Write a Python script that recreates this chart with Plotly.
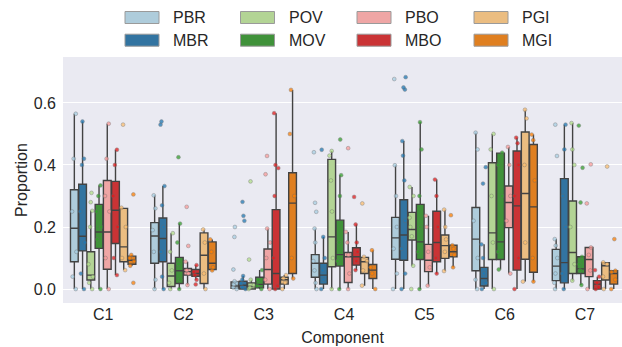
import colorsys
import plotly.graph_objects as go

# ---------------- data ----------------
COMPONENTS = ["C1", "C2", "C3", "C4", "C5", "C6", "C7"]
GROUPS = ["PBR", "MBR", "POV", "MOV", "PBO", "MBO", "PGI", "MGI"]
BASE_COLORS = ["#a6cee3", "#1f78b4", "#b2df8a", "#33a02c",
               "#fb9a99", "#e31a1c", "#fdbf6f", "#ff7f00"]

# per group: values for C1..C7
LOWER = {
    "PBR": [0.0, 0.0, 0.0, 0.0, 0.0, 0.0, 0.0],
    "MBR": [0.0, 0.0, 0.0, 0.0, 0.0, 0.0, 0.0],
    "POV": [0.0, 0.0, 0.0, 0.0, 0.075, 0.0, 0.027],
    "MOV": [0.0, 0.0, 0.0, 0.0, 0.0, 0.063, 0.013],
    "PBO": [0.0, 0.013, 0.0, 0.0, 0.011, 0.05, 0.0],
    "MBO": [0.045, 0.03, 0.0, 0.061, 0.05, 0.0, 0.0],
    "PGI": [0.061, 0.0, 0.0, 0.011, 0.058, 0.024, 0.0],
    "MGI": [0.075, 0.06, 0.034, 0.0, 0.07, 0.024, 0.0],
}
Q1 = {
    "PBR": [0.088, 0.083, 0.002, 0.038, 0.096, 0.059, 0.027],
    "MBR": [0.123, 0.088, 0.0, 0.016, 0.093, 0.01, 0.02],
    "POV": [0.029, 0.008, 0.0, 0.072, 0.158, 0.095, 0.05],
    "MOV": [0.131, 0.018, 0.004, 0.074, 0.095, 0.095, 0.05],
    "PBO": [0.064, 0.045, 0.016, 0.021, 0.056, 0.198, 0.04],
    "MBO": [0.147, 0.041, 0.0, 0.077, 0.088, 0.061, 0.0],
    "PGI": [0.088, 0.018, 0.016, 0.05, 0.099, 0.096, 0.029],
    "MGI": [0.08, 0.063, 0.05, 0.034, 0.104, 0.054, 0.016],
}
MEDIAN = {
    "PBR": [0.196, 0.171, 0.01, 0.083, 0.165, 0.161, 0.074],
    "MBR": [0.17, 0.163, 0.012, 0.045, 0.174, 0.034, 0.085],
    "POV": [0.045, 0.042, 0.008, 0.168, 0.192, 0.181, 0.118],
    "MOV": [0.184, 0.059, 0.015, 0.111, 0.152, 0.152, 0.065],
    "PBO": [0.184, 0.056, 0.063, 0.104, 0.093, 0.279, 0.095],
    "MBO": [0.254, 0.05, 0.05, 0.104, 0.15, 0.268, 0.016],
    "PGI": [0.136, 0.109, 0.03, 0.088, 0.14, 0.308, 0.075],
    "MGI": [0.093, 0.083, 0.277, 0.061, 0.12, 0.265, 0.05],
}
Q3 = {
    "PBR": [0.32, 0.214, 0.023, 0.111, 0.231, 0.263, 0.128],
    "MBR": [0.338, 0.229, 0.025, 0.083, 0.288, 0.07, 0.356],
    "POV": [0.12, 0.083, 0.02, 0.418, 0.247, 0.407, 0.284],
    "MOV": [0.273, 0.102, 0.038, 0.222, 0.273, 0.438, 0.104],
    "PBO": [0.35, 0.066, 0.129, 0.118, 0.144, 0.332, 0.134],
    "MBO": [0.347, 0.063, 0.256, 0.133, 0.251, 0.445, 0.027],
    "PGI": [0.26, 0.181, 0.038, 0.102, 0.174, 0.506, 0.085],
    "MGI": [0.106, 0.152, 0.375, 0.079, 0.141, 0.466, 0.059],
}
UPPER = {
    "PBR": [0.565, 0.302, 0.025, 0.195, 0.399, 0.504, 0.161],
    "MBR": [0.54, 0.332, 0.042, 0.168, 0.477, 0.144, 0.53],
    "POV": [0.252, 0.18, 0.03, 0.445, 0.329, 0.5, 0.535],
    "MOV": [0.334, 0.211, 0.061, 0.367, 0.538, 0.44, 0.104],
    "PBO": [0.533, 0.088, 0.195, 0.184, 0.236, 0.458, 0.134],
    "MBO": [0.449, 0.077, 0.567, 0.208, 0.353, 0.488, 0.04],
    "PGI": [0.262, 0.192, 0.045, 0.104, 0.256, 0.578, 0.086],
    "MGI": [0.11, 0.16, 0.642, 0.125, 0.141, 0.498, 0.059],
}
OUTLIERS = {
    "PBR": [[], [], [0.2, 0.168, 0.063], [0.441, 0.278, 0.249], [0.677], [], [0.53, 0.429]],
    "MBR": [[], [0.53, 0.54], [0.281, 0.236, 0.22], [0.449], [0.683, 0.65, 0.643], [0.393, 0.34], []],
    "POV": [[0.31, 0.28], [], [0.347, 0.095], [], [0.0], [], []],
    "MOV": [[], [0.425], [], [0.482], [], [], [0.527, 0.391, 0.279]],
    "PBO": [[], [0.265, 0.139], [0.429, 0.37], [0.454], [], [], [0.402, 0.276]],
    "MBO": [[], [0.015], [], [0.297], [], [], [0.061]],
    "PGI": [[0.53], [], [], [0.276], [], [], [0.395]],
    "MGI": [[0.305, 0.02], [], [], [], [0.238], [], [0.161]],
}
INNER = {
    "PBR": [[0.04, 0.12, 0.25, 0.42], [0.03, 0.12, 0.19, 0.26], [0.005, 0.015, 0.02],
            [0.02, 0.06, 0.09, 0.15], [0.05, 0.13, 0.2, 0.3], [0.03, 0.1, 0.22, 0.45], [0.02, 0.05, 0.1, 0.14]],
    "MBR": [[0.05, 0.15, 0.25, 0.4, 0.42], [0.04, 0.12, 0.2, 0.27], [0.005, 0.018, 0.03],
            [0.03, 0.06, 0.1], [0.05, 0.13, 0.22, 0.35, 0.43], [0.02, 0.05, 0.1], [0.05, 0.2, 0.3, 0.45]],
    "POV": [[0.02, 0.04, 0.08, 0.2], [0.02, 0.06, 0.12], [0.005, 0.012],
            [0.1, 0.25, 0.35, 0.43], [0.17, 0.2, 0.23, 0.3], [0.15, 0.3, 0.45], [0.08, 0.2, 0.4, 0.45]],
    "MOV": [[0.16, 0.2, 0.25, 0.3], [0.03, 0.08, 0.15], [0.01, 0.03],
            [0.09, 0.15, 0.3], [0.12, 0.2, 0.3, 0.45], [0.12, 0.3, 0.4], [0.06, 0.08]],
    "PBO": [[0.1, 0.25, 0.3, 0.42], [0.05, 0.06], [0.03, 0.1, 0.15],
            [0.05, 0.11, 0.15], [0.07, 0.12, 0.2], [0.22, 0.3, 0.4], [0.06, 0.11]],
    "MBO": [[0.1, 0.2, 0.3, 0.4], [0.045, 0.055], [0.01, 0.1, 0.3, 0.4, 0.39],
            [0.09, 0.12, 0.15], [0.1, 0.2, 0.3], [0.1, 0.3, 0.4, 0.47], [0.005, 0.02]],
    "PGI": [[0.1, 0.2], [0.05, 0.15], [0.02, 0.035],
            [0.06, 0.09], [0.12, 0.16, 0.2], [0.15, 0.4, 0.55], [0.04, 0.08]],
    "MGI": [[0.09, 0.1], [0.07, 0.12], [0.1, 0.3, 0.5],
            [0.05, 0.07], [0.11, 0.13], [0.1, 0.35, 0.48], [0.03, 0.055]],
}
Y_TICKS = [0.0, 0.2, 0.4, 0.6]
LEGEND_ORDER = ["PBR", "POV", "PBO", "PGI", "MBR", "MOV", "MBO", "MGI"]


def desaturate(hexcol, prop=0.75):
    r, g, b = (int(hexcol[i:i + 2], 16) / 255 for i in (1, 3, 5))
    h, l, s = colorsys.rgb_to_hls(r, g, b)
    r, g, b = colorsys.hls_to_rgb(h, l, s * prop)
    return "#%02x%02x%02x" % (round(r * 255), round(g * 255), round(b * 255))


COLOR = {g: c for g, c in zip(GROUPS, BASE_COLORS)}
FILL = {g: desaturate(c) for g, c in zip(GROUPS, BASE_COLORS)}

# ---------------- figure ----------------
W, H = 622, 347
ML, MR, MT, MB = 63, 0, 57, 44
PW, PH = W - ML - MR, H - MT - MB
CAT_PX = 80.3
FONT = "Liberation Sans, Arial, sans-serif"
TXT = "#262626"

fig = go.Figure()
for g in GROUPS:
    pts = [[LOWER[g][i], UPPER[g][i]] + INNER[g][i] + OUTLIERS[g][i]
           for i in range(len(COMPONENTS))]
    fig.add_trace(go.Box(
        name=g, x=COMPONENTS, y=pts,
        q1=Q1[g], median=MEDIAN[g], q3=Q3[g],
        lowerfence=LOWER[g], upperfence=UPPER[g],
        offsetgroup=g, boxpoints="all", pointpos=0, jitter=0.7,
        whiskerwidth=0, fillcolor=FILL[g],
        line=dict(color="#434343", width=1.4),
        marker=dict(color=COLOR[g], size=3.8, opacity=0.75,
                    line=dict(color="#6a6a6a", width=0.5)),
        showlegend=False, hoverinfo="skip",
    ))

# manual legend (4 columns x 2 rows)
SW_X = [125, 240.5, 357, 474]
ROW_Y = [17.5, 40.2]
shapes, annots = [], []
for k, g in enumerate(LEGEND_ORDER):
    col, row = k % 4, k // 4
    x0, yc = SW_X[col], ROW_Y[row]
    shapes.append(dict(
        type="rect", xref="paper", yref="paper",
        x0=(x0 - ML) / PW, x1=(x0 + 34 - ML) / PW,
        y0=(H - MB - (yc + 6)) / PH, y1=(H - MB - (yc - 6)) / PH,
        fillcolor=FILL[g], line=dict(color="#9a9a9a", width=1)))
    annots.append(dict(
        text=g, xref="paper", yref="paper", x=(x0 + 46 - ML) / PW,
        y=(H - MB - yc) / PH, xanchor="left", yanchor="middle",
        showarrow=False, font=dict(family=FONT, size=16, color=TXT)))

fig.update_layout(
    width=W, height=H,
    margin=dict(l=ML, r=MR, t=MT, b=MB, pad=0),
    paper_bgcolor="white", plot_bgcolor="#EAEAF2",
    boxmode="group", boxgap=0.18, boxgroupgap=0.06,
    font=dict(family=FONT, size=16, color=TXT),
    shapes=shapes, annotations=annots,
    showlegend=False,
)
fig.update_xaxes(
    type="category", categoryorder="array", categoryarray=COMPONENTS,
    range=[-0.5, -0.5 + PW / CAT_PX], showgrid=False, zeroline=False,
    showline=False, ticks="", ticklabelstandoff=0,
    title=dict(text="Component", standoff=9, font=dict(size=16)),
)
fig.update_yaxes(
    range=[-0.045, 0.748], tickvals=Y_TICKS, tickformat=".1f",
    showgrid=True, gridcolor="white", gridwidth=1.2, zeroline=False,
    showline=False, ticks="", ticklabelstandoff=6,
    title=dict(text="Proportion", standoff=2, font=dict(size=16)),
)

fig.write_html(
    "out.html",
    config={"displayModeBar": False},
    post_script="document.body.style.margin='0';document.body.style.overflow='hidden';",
)
